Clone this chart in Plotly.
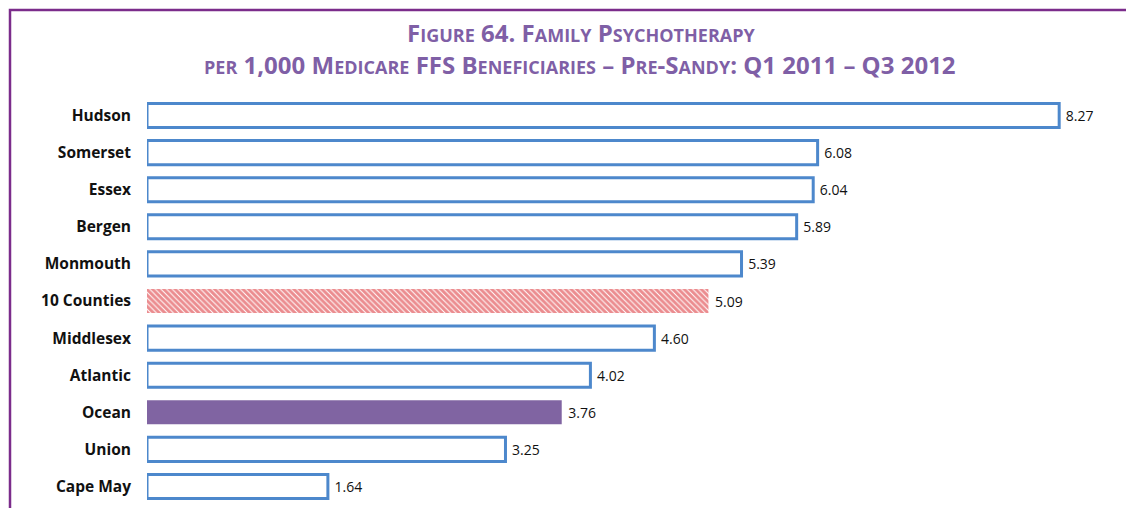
import plotly.graph_objects as go

# Family psychotherapy rates per 1,000 Medicare FFS beneficiaries
counties = ["Hudson", "Somerset", "Essex", "Bergen", "Monmouth", "10 Counties",
            "Middlesex", "Atlantic", "Ocean", "Union", "Cape May"]
rates = [8.27, 6.08, 6.04, 5.89, 5.39, 5.09, 4.60, 4.02, 3.76, 3.25, 1.64]

title_line1 = "Figure 64. Family Psychotherapy"
title_line2 = "per 1,000 Medicare FFS Beneficiaries \u2013 Pre-Sandy: Q1 2011 \u2013 Q3 2012"

W, H = 1126, 508
ML, MR, MT, MB = 147, 20, 97, 3
PW, PH = W - ML - MR, H - MT - MB

BLUE = "#4D88CC"
PURPLE = "#8064A2"
RED = "#D81A1F"
FRAME = "#7B2C8B"
TITLE = "#7F5FA6"
AVERAGE = "10 Counties"
HIGHLIGHT = "Ocean"


def px_x(px):
    return (px - ML) / PW


def px_y(py):
    return (H - MB - py) / PH


def small_caps(text, small=18):
    out = []
    for ch in text:
        if ch.islower():
            out.append(f'<span style="font-size:{small}px">{ch.upper()}</span>')
        else:
            out.append(ch)
    return "".join(out)


label_font = dict(family="Open Sans", size=14, color="#111111")


def bar_trace(names, values, marker):
    return go.Bar(
        x=values, y=names, orientation="h", marker=marker,
        text=[f"{v:.2f}" for v in values], texttemplate=" %{text}",
        textposition="outside", cliponaxis=False, textfont=label_font,
        hoverinfo="skip",
    )


plain = [(c, v) for c, v in zip(counties, rates) if c not in (AVERAGE, HIGHLIGHT)]
avg = [(c, v) for c, v in zip(counties, rates) if c == AVERAGE]
hil = [(c, v) for c, v in zip(counties, rates) if c == HIGHLIGHT]

fig = go.Figure()
fig.add_trace(bar_trace([c for c, _ in plain], [v for _, v in plain],
                        dict(color="white", line=dict(color=BLUE, width=3))))
fig.add_trace(bar_trace([c for c, _ in avg], [v for _, v in avg],
                        dict(color="white", line=dict(width=0),
                             pattern=dict(shape="\\", fgcolor=RED, bgcolor="white",
                                          fillmode="overlay", size=4, solidity=0.75))))
fig.add_trace(bar_trace([c for c, _ in hil], [v for _, v in hil],
                        dict(color=PURPLE, line=dict(width=0))))

fig.update_layout(
    width=W, height=H,
    margin=dict(l=ML, r=MR, t=MT, b=MB, pad=0),
    paper_bgcolor="white", plot_bgcolor="white",
    showlegend=False, bargap=0.35, barmode="overlay",
    xaxis=dict(range=[0, PW / 110.3], visible=False, fixedrange=True),
    yaxis=dict(type="category", categoryorder="array", categoryarray=counties,
               range=[len(counties) - 0.5, -0.5], showgrid=False, showline=False,
               ticks="", ticklabelstandoff=15,
               tickfont=dict(family="Open Sans", size=15.5, color="#111111",
                             weight="bold")),
    shapes=[dict(type="path", xref="paper", yref="paper",
                 path=f"M {px_x(10)} {px_y(530)} L {px_x(10)} {px_y(10)} L {px_x(1150)} {px_y(10)}",
                 line=dict(color=FRAME, width=2.5))],
    annotations=[
        dict(text=small_caps(title_line1), x=px_x(581), y=px_y(33),
             xref="paper", yref="paper", showarrow=False,
             xanchor="center", yanchor="middle",
             font=dict(family="Open Sans", size=24, color=TITLE, weight="bold")),
        dict(text=small_caps(title_line2), x=px_x(580), y=px_y(64),
             xref="paper", yref="paper", showarrow=False,
             xanchor="center", yanchor="middle",
             font=dict(family="Open Sans", size=24, color=TITLE, weight="bold")),
    ],
)

fig.write_html("out.html")
